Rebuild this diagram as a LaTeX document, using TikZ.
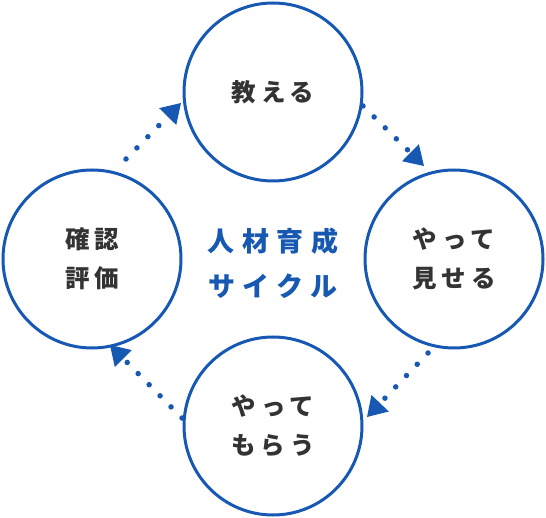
\documentclass[tikz,border=0pt]{standalone}
\usepackage{fontspec}
\usetikzlibrary{calc}
\newfontfamily\jp{Noto Sans CJK JP}[LetterSpace=20]
\newfontfamily\jpc{Noto Sans CJK JP}[LetterSpace=28]
\definecolor{cblue}{RGB}{22,88,178}
\definecolor{ctext}{RGB}{51,51,51}
\tikzset{
  stage/.style={circle,draw=cblue,line width=3pt,minimum size=178pt,inner sep=0pt,
    font=\jp\bfseries\fontsize{24.5}{39}\selectfont,text=ctext,align=center},
  dots/.style={draw=cblue,line width=5.5pt,line cap=round,dash pattern=on 0pt off 15.6pt},
}
\newcommand{\flowarrow}[2]{%
  \draw[dots] (#1) -- ($(#2)!16pt!(#1)$);
  \coordinate (bm) at ($(#2)!19pt!(#1)$);
  \fill[cblue] (#2) -- ($(bm)!12pt!90:(#2)$) -- ($(bm)!12pt!-90:(#2)$) -- cycle;
}
\begin{document}
\begin{tikzpicture}[x=1pt,y=-1pt]
\useasboundingbox (0,0) rectangle (546,518);
\node[stage] (top) at (273,92) {教える};
\node[stage] (right) at (454,259) {やって\\見せる};
\node[stage] (bottom) at (273,426) {やって\\もらう};
\node[stage] (left) at (92,259) {確認\\評価};
\node[font=\jpc\bfseries\fontsize{27}{45}\selectfont,text=cblue,align=center] (center) at (273,263) {人材育成\\サイクル};
\coordinate (a1) at (363,106);
\coordinate (a2) at (424,166);
\coordinate (b1) at (428,353);
\coordinate (b2) at (367,417);
\coordinate (c1) at (182,418);
\coordinate (c2) at (110,345);
\coordinate (d1) at (126,159);
\coordinate (d2) at (181,103);
\flowarrow{a1}{a2}
\flowarrow{b1}{b2}
\flowarrow{c1}{c2}
\flowarrow{d1}{d2}
\end{tikzpicture}
\end{document}
